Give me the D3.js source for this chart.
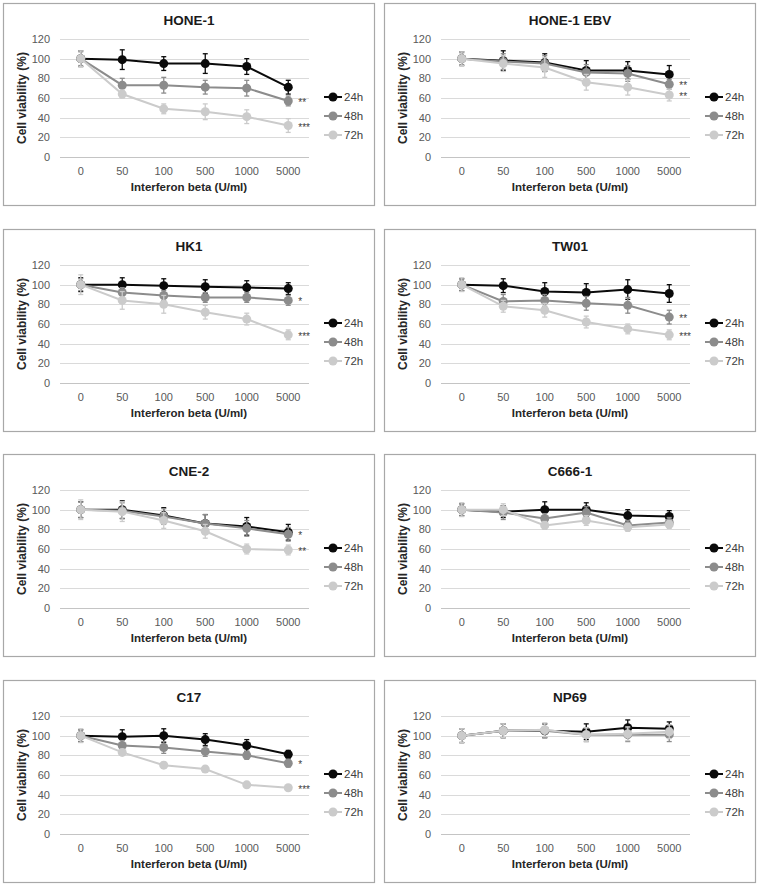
<!DOCTYPE html>
<html>
<head>
<meta charset="utf-8">
<script src="https://cdn.jsdelivr.net/npm/d3@7"></script>
<style>
  html, body { margin: 0; padding: 0; background: #fff; }
  svg { display: block; font-family: "Liberation Sans", Arial, sans-serif; }
</style>
</head>
<body>
<svg id="chart" width="760" height="888"></svg>
<script>
// ---- Data ----
const cellLines = ["HONE-1", "HONE-1 EBV", "HK1", "TW01", "CNE-2", "C666-1", "C17", "NP69"];
const doses = ["0", "50", "100", "500", "1000", "5000"];
const seriesNames = ["24h", "48h", "72h"];
const yTicks = [0, 20, 40, 60, 80, 100, 120];

// mean cell viability (%) per cell line (rows) and dose (columns)
const viability24h = [
  [100, 99, 95, 95, 92, 71],
  [100, 98, 96, 88, 88, 84],
  [100, 100, 99, 98, 97, 96],
  [100, 99, 93, 92, 95, 91],
  [100, 100, 94, 86, 83, 77],
  [100, 98, 100, 100, 94, 93],
  [100, 99, 100, 96, 90, 81],
  [100, 105, 105, 104, 108, 107]
];
const viability48h = [
  [100, 73, 73, 71, 70, 57],
  [100, 97, 95, 86, 85, 74],
  [100, 92, 89, 87, 87, 84],
  [100, 83, 84, 81, 79, 67],
  [100, 99, 93, 86, 81, 75],
  [100, 97, 91, 97, 84, 87],
  [100, 90, 88, 84, 80, 72],
  [100, 105, 105, 101, 101, 101]
];
const viability72h = [
  [100, 64, 49, 46, 41, 32],
  [100, 95, 91, 76, 71, 63],
  [100, 84, 80, 72, 65, 49],
  [100, 78, 74, 62, 55, 49],
  [100, 98, 89, 78, 60, 59],
  [100, 100, 84, 89, 82, 85],
  [100, 83, 70, 66, 50, 47],
  [100, 105, 106, 101, 102, 104]
];
// error bar half-lengths
const error24h = [
  [8, 10, 7, 10, 8, 7],
  [7, 10, 9, 10, 9, 9],
  [7, 7, 7, 7, 7, 6],
  [6, 7, 9, 9, 10, 9],
  [8, 9, 8, 9, 9, 8],
  [6, 6, 8, 7, 6, 6],
  [6, 7, 7, 6, 6, 4],
  [7, 7, 7, 8, 8, 7]
];
const error48h = [
  [7, 7, 8, 7, 8, 5],
  [6, 8, 8, 8, 8, 5],
  [6, 5, 5, 5, 5, 5],
  [6, 7, 6, 7, 8, 7],
  [8, 8, 8, 9, 8, 7],
  [6, 7, 5, 6, 5, 5],
  [6, 5, 6, 5, 4, 4],
  [7, 7, 7, 7, 7, 7]
];
const error72h = [
  [8, 4, 5, 8, 7, 7],
  [7, 8, 10, 8, 8, 6],
  [10, 9, 9, 7, 6, 5],
  [7, 6, 7, 6, 5, 5],
  [10, 10, 8, 7, 5, 5],
  [7, 6, 4, 5, 4, 4],
  [7, 3, 3, 3, 2, 2],
  [7, 7, 7, 7, 7, 7]
];
// significance marks at 5000 U/ml
const stars48h = ["**", "**", "*", "**", "*", "", "*", ""];
const stars72h = ["***", "**", "***", "***", "**", "", "***", ""];

// ---- Layout ----
const colors = ["#0a0a0a", "#8c8c8c", "#cbcbcb"];
const panelW = 371, panelH = 202;
const colX = [3, 384];
const rowY = [3, 229, 454, 680];

const svg = d3.select("#chart");
const x = d3.scaleBand().domain(doses).range([57, 306]).padding(0);
const y = d3.scaleLinear().domain([0, 120]).range([154, 36]);

const valueSets = [viability24h, viability48h, viability72h];
const errorSets = [error24h, error48h, error72h];
const starSets = [null, stars48h, stars72h];

cellLines.forEach((name, p) => {
  const g = svg.append("g")
    .attr("transform", `translate(${colX[p % 2]},${rowY[Math.floor(p / 2)]})`);

  g.append("rect")
    .attr("x", 0.5).attr("y", 0.5)
    .attr("width", panelW).attr("height", panelH)
    .attr("fill", "#fff").attr("stroke", "#a8a8a8").attr("stroke-width", 1.2);

  g.append("text")
    .attr("x", 186).attr("y", 22)
    .attr("text-anchor", "middle")
    .attr("font-size", 13.5).attr("font-weight", "bold").attr("fill", "#1a1a1a")
    .text(name);

  // gridlines
  g.append("g").selectAll("line").data(yTicks).join("line")
    .attr("x1", x.range()[0]).attr("x2", x.range()[1])
    .attr("y1", d => Math.round(y(d)) + 0.5).attr("y2", d => Math.round(y(d)) + 0.5)
    .attr("stroke", d => d === 0 ? "#c4c4c4" : "#dadada").attr("stroke-width", 1);

  // y axis labels
  const yAxis = d3.axisLeft(y).tickValues(yTicks).tickSize(0).tickPadding(10);
  const ya = g.append("g").attr("transform", `translate(${x.range()[0]},0)`).call(yAxis);
  ya.select(".domain").remove();
  ya.selectAll("text").attr("font-size", 11).attr("fill", "#595959")
    .attr("font-family", "Liberation Sans, Arial, sans-serif");

  // x axis labels
  const xAxis = d3.axisBottom(x).tickSize(0).tickPadding(10);
  const xa = g.append("g").attr("transform", `translate(0,${y(0)})`).call(xAxis);
  xa.select(".domain").remove();
  xa.selectAll("text").attr("font-size", 11).attr("fill", "#595959")
    .attr("font-family", "Liberation Sans, Arial, sans-serif");

  // axis titles
  g.append("text")
    .attr("x", 186).attr("y", 188)
    .attr("text-anchor", "middle")
    .attr("font-size", 11.5).attr("font-weight", "bold").attr("fill", "#262626")
    .text("Interferon beta (U/ml)");
  g.append("text")
    .attr("transform", `translate(23,${(y(0) + y(120)) / 2}) rotate(-90)`)
    .attr("text-anchor", "middle")
    .attr("font-size", 12).attr("font-weight", "bold").attr("fill", "#262626")
    .text("Cell viability (%)");

  const cx = d => x(d) + x.bandwidth() / 2;

  seriesNames.forEach((s, si) => {
    const vals = valueSets[si][p];
    const errs = errorSets[si][p];
    const pts = doses.map((d, i) => ({ d, v: vals[i], e: errs[i] }));
    const sg = g.append("g");

    // error bars
    const eb = sg.selectAll(".eb").data(pts).join("g");
    eb.append("line")
      .attr("x1", d => cx(d.d)).attr("x2", d => cx(d.d))
      .attr("y1", d => y(d.v + d.e)).attr("y2", d => y(d.v - d.e))
      .attr("stroke", colors[si]).attr("stroke-width", 1.3);
    eb.append("line")
      .attr("x1", d => cx(d.d) - 2.5).attr("x2", d => cx(d.d) + 2.5)
      .attr("y1", d => y(d.v + d.e)).attr("y2", d => y(d.v + d.e))
      .attr("stroke", colors[si]).attr("stroke-width", 1.3);
    eb.append("line")
      .attr("x1", d => cx(d.d) - 2.5).attr("x2", d => cx(d.d) + 2.5)
      .attr("y1", d => y(d.v - d.e)).attr("y2", d => y(d.v - d.e))
      .attr("stroke", colors[si]).attr("stroke-width", 1.3);

    // line
    sg.append("path")
      .datum(pts)
      .attr("fill", "none")
      .attr("stroke", colors[si]).attr("stroke-width", 2)
      .attr("d", d3.line().x(d => cx(d.d)).y(d => y(d.v)));

    // markers
    sg.selectAll("circle").data(pts).join("circle")
      .attr("cx", d => cx(d.d)).attr("cy", d => y(d.v)).attr("r", 4.5)
      .attr("fill", colors[si]);

    // significance
    if (starSets[si] && starSets[si][p]) {
      const last = pts[pts.length - 1];
      g.append("text")
        .attr("x", cx(last.d) + 10).attr("y", y(last.v) + 5)
        .attr("font-size", 10).attr("fill", "#404040")
        .text(starSets[si][p]);
    }

    // legend
    const ly = 94 + si * 19;
    const lg = g.append("g");
    lg.append("line")
      .attr("x1", 321).attr("x2", 339).attr("y1", ly).attr("y2", ly)
      .attr("stroke", colors[si]).attr("stroke-width", 2);
    lg.append("circle").attr("cx", 330).attr("cy", ly).attr("r", 4.5).attr("fill", colors[si]);
    lg.append("text")
      .attr("x", 341).attr("y", ly + 4)
      .attr("font-size", 11.5).attr("fill", "#404040")
      .text(s);
  });
});
</script>
</body>
</html>
